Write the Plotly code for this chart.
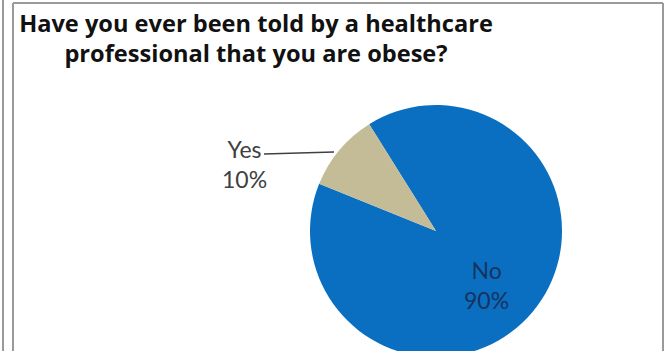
import plotly.graph_objects as go

# Survey answers
answers = ["No", "Yes"]
shares = [90, 10]
slice_colors = ["#0A6FC1", "#C4BC97"]

W, H = 668, 360


def px(x):
    return x / W


def py(y):
    return 1 - y / H


fig = go.Figure()

fig.add_trace(go.Pie(
    labels=answers,
    values=shares,
    sort=False,
    direction="clockwise",
    rotation=-32,
    marker=dict(colors=slice_colors, line=dict(width=0)),
    textinfo="none",
    hoverinfo="label+percent",
    showlegend=False,
    domain=dict(x=[px(310), px(562)], y=[py(357), py(105)]),
))

# Slice labels
label_spots = {"No": (486, 285, "#15335F"), "Yes": (245, 164, "#404040")}
for name, share in zip(answers, shares):
    lx, ly, col = label_spots[name]
    fig.add_annotation(
        x=px(lx), y=py(ly), xref="paper", yref="paper",
        xanchor="center", yanchor="middle",
        text=f"{name}<br>{share}%",
        showarrow=False, align="center",
        font=dict(family="Lato", size=23, color=col),
    )

# Leader line for the small slice
fig.add_shape(type="line", xref="paper", yref="paper",
              x0=px(264), y0=py(154), x1=px(334), y1=py(152),
              line=dict(color="#404040", width=1.5))

# Frame lines
frame = dict(color="#9A9A9A", width=2)
fig.add_shape(type="line", xref="paper", yref="paper",
              x0=px(3), y0=0, x1=px(3), y1=1, line=frame)
fig.add_shape(type="line", xref="paper", yref="paper",
              x0=px(13), y0=0, x1=px(13), y1=py(3), line=frame)
fig.add_shape(type="line", xref="paper", yref="paper",
              x0=px(13), y0=py(3), x1=px(663), y1=py(3), line=frame)
fig.add_shape(type="line", xref="paper", yref="paper",
              x0=px(663), y0=py(3), x1=px(663), y1=0, line=frame)

fig.update_layout(
    width=W, height=H,
    margin=dict(l=0, r=0, t=0, b=0),
    paper_bgcolor="white",
    plot_bgcolor="white",
    title=dict(
        text="Have you ever been told by a healthcare<br>professional that you are obese?",
        x=px(256), xanchor="center",
        y=py(31.5), yanchor="middle",
        font=dict(family="Open Sans", size=23.6, color="#111111", weight="bold"),
    ),
)

fig.write_html("out.html")
